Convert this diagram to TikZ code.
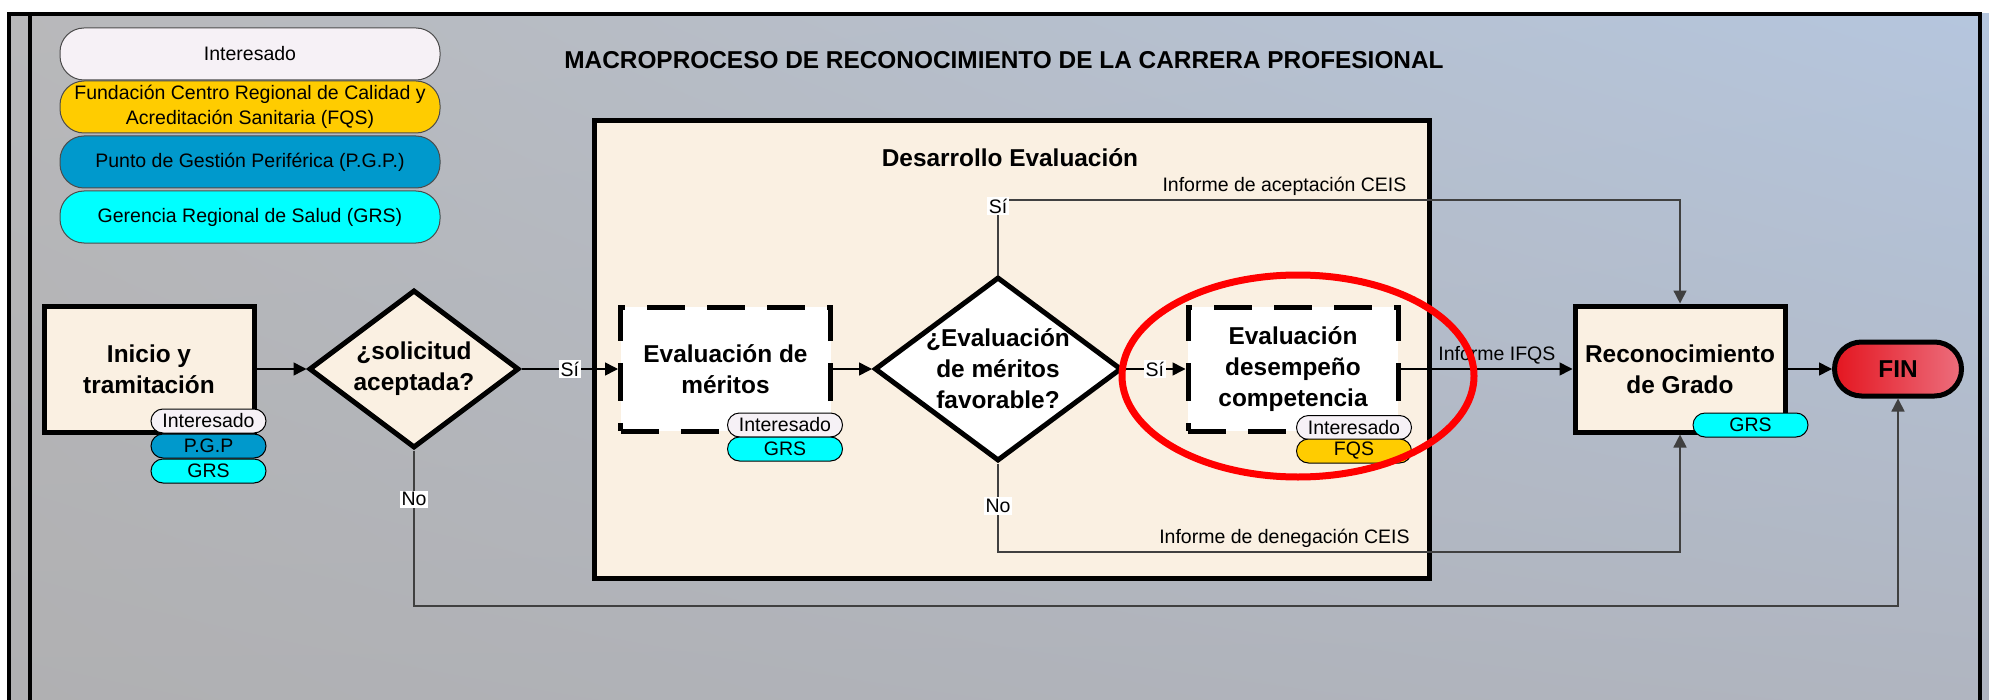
\documentclass[tikz,border=0pt]{standalone}
\usepackage{fontspec}
\setmainfont{Liberation Sans}
\usetikzlibrary{arrows.meta,positioning,shapes.geometric,shadings,graphs}

\definecolor{crema}{RGB}{250,240,226}
\definecolor{interesado}{RGB}{246,241,246}
\definecolor{fqs}{RGB}{255,204,0}
\definecolor{pgp}{RGB}{0,153,204}
\definecolor{grs}{RGB}{0,255,255}
\definecolor{fondoA}{RGB}{184,184,186}
\definecolor{fondoB}{RGB}{181,198,222}
\definecolor{fondoC}{RGB}{176,176,178}
\definecolor{fondoD}{RGB}{176,181,192}
\definecolor{finrojo}{RGB}{228,22,32}
\definecolor{finrosa}{RGB}{236,110,125}

\begin{document}
\begin{tikzpicture}
	% Styles
	[
	x=0.5pt, y=-0.5pt,
	>={Triangle[length=6.5pt,width=6.5pt]},
	txtbig/.style={font=\fontsize{12.2}{15.5}\selectfont\bfseries},
	txtsmall/.style={font=\fontsize{9.75}{12.5}\selectfont},
	proc/.style={rectangle,draw,line width=2.5pt,fill=crema,minimum width=105pt,minimum height=63pt,align=center,txtbig},
	subproc/.style={rectangle,draw,line width=2.5pt,dash pattern=on 19pt off 11pt,fill=white,minimum width=105pt,minimum height=62pt,align=center,txtbig},
	decision/.style={diamond,draw,line width=2.5pt,fill=crema,inner sep=-7pt,align=center,txtbig},
	finpill/.style={rectangle,rounded corners=13.5pt,draw,line width=2.5pt,left color=finrojo,right color=finrosa,minimum width=63.5pt,minimum height=27pt,txtbig},
	tag/.style={rectangle,rounded corners=6pt,draw=black,line width=0.5pt,minimum width=57.5pt,minimum height=12pt,inner sep=0pt,txtsmall},
	legendpill/.style={rectangle,rounded corners=12pt,draw=black!70,line width=0.5pt,minimum width=190pt,minimum height=26pt,inner sep=0pt,align=center,txtsmall},
	conn/.style={->,line width=0.75pt},
	back/.style={->,line width=0.75pt,draw=black!75},
	lbl/.style={fill=white,inner sep=1pt,txtsmall},
	]

	% Background
	\useasboundingbox (0,0) rectangle (1989,700);
	\shade[upper left=fondoA,upper right=fondoB,lower left=fondoC,lower right=fondoD] (9,14) rectangle (1989,700);
	\draw[line width=2pt] (9,700) -- (9,14) -- (1980,14) -- (1980,700);
	\draw[line width=2pt] (30,14) -- (30,700);

	% Title and legend
	\node at (1004,60)	(titulo)	[txtbig] {MACROPROCESO DE RECONOCIMIENTO DE LA CARRERA PROFESIONAL};
	\node at (250,54)	(legInt)	[legendpill,fill=interesado] {Interesado};
	\node at (250,107)	(legFqs)	[legendpill,fill=fqs] {Fundación Centro Regional de Calidad y\\Acreditación Sanitaria (FQS)};
	\node at (250,162)	(legPgp)	[legendpill,fill=pgp] {Punto de Gestión Periférica (P.G.P.)};
	\node at (250,217)	(legGrs)	[legendpill,fill=grs] {Gerencia Regional de Salud (GRS)};

	% Desarrollo Evaluacion
	\node at (1011.5,349.5)	(desarrollo)	[rectangle,draw,line width=2.5pt,fill=crema,minimum width=417.5pt,minimum height=228.5pt] {};
	\node at (1010,158)	(desTit)	[txtbig] {Desarrollo Evaluación};

	% Nodes
	\node at (149,369)	(inicio)	[proc] {Inicio y\\tramitación};
	\node at (414,369)	(sol)	[decision,minimum width=105pt,minimum height=79pt] {¿solicitud\\aceptada?};
	\node at (725.5,369)	(meritos)	[subproc] {Evaluación de\\méritos};
	\node at (998,369)	(fav)	[decision,fill=white,inner sep=-10pt,minimum width=123.5pt,minimum height=92pt] {¿Evaluación\\de méritos\\favorable?};
	\node at (1293,369)	(desemp)	[subproc] {Evaluación\\desempeño\\competencia};
	\node at (1680,369)	(reco)	[proc] {Reconocimiento\\de Grado};
	\node at (1898,369)	(fin)	[finpill] {FIN};

	% Actors
	\node at (208.5,421)	(iniInt)	[tag,fill=interesado] {Interesado};
	\node at (208.5,446)	(iniPgp)	[tag,fill=pgp] {P.G.P};
	\node at (208.5,471)	(iniGrs)	[tag,fill=grs] {GRS};
	\node at (785,425)	(merInt)	[tag,fill=interesado] {Interesado};
	\node at (785,449)	(merGrs)	[tag,fill=grs] {GRS};
	\node at (1354,427.5)	(desInt)	[tag,fill=interesado] {Interesado};
	\node at (1354,451)	(desFqs)	[tag,fill=fqs] {FQS};
	\node at (1750.5,425)	(recGrs)	[tag,fill=grs] {GRS};

	% Connections
	\graph[use existing nodes, edges={conn}] {
		inicio -> sol;
		meritos -> fav;
		reco -> fin;
	};
	\draw[conn] (sol) -- node[lbl] {Sí} (meritos);
	\draw[conn] (fav) -- node[lbl] {Sí} (desemp);
	\draw[conn] (desemp) -- node[above,txtsmall,inner sep=2pt,pos=0.56] {Informe IFQS} (reco);

	\coordinate (arriba) at (0,200);
	\coordinate (abajo) at (0,552);
	\coordinate (fondo) at (0,606);
	\draw[back] (fav.north) |- node[lbl,pos=0.46] {Sí} node[above,txtsmall,inner sep=2pt,pos=0.71] {Informe de aceptación CEIS} (arriba -| reco.north) -- (reco.north);
	\draw[back] (fav.south) |- node[lbl,pos=0.24] {No} node[above,txtsmall,inner sep=2pt,pos=0.71] {Informe de denegación CEIS} (abajo -| reco.south) -- (reco.south);
	\draw[back] (sol.south) |- node[lbl,pos=0.157] {No} (fondo -| fin.south) -- (fin.south);

	% Highlight
	\draw[red,line width=3.5pt] (1298,376) ellipse [x radius=88pt, y radius=50.5pt];

\end{tikzpicture}
\end{document}
